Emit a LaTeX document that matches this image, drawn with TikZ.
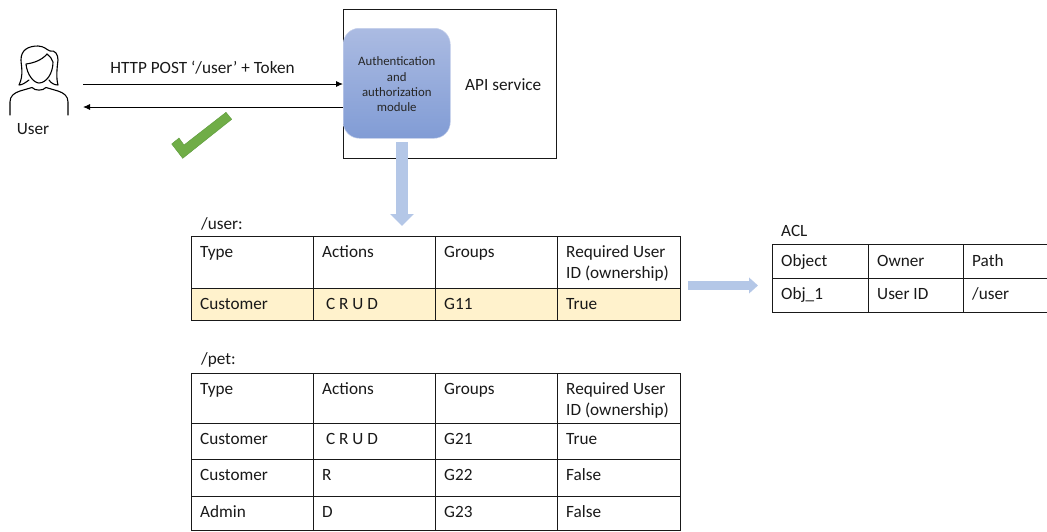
\documentclass[tikz,border=0pt]{standalone}
\usepackage{fontspec}
\setmainfont{Carlito}
\usetikzlibrary{arrows.meta,calc}
\definecolor{rowcol}{HTML}{FFF2CC}
\definecolor{arrowcol}{HTML}{B4C7E7}
\definecolor{checkcol}{HTML}{70AD47}
\definecolor{checkedge}{HTML}{5B9A3A}
\definecolor{modtop}{HTML}{ABBBE2}
\definecolor{modbot}{HTML}{819CD5}
\tikzset{
  x=1pt,y=-1pt,
  txt/.style={font=\fontsize{17.2}{21}\selectfont,inner sep=0pt,text=black!90},
  cell/.style={draw=black!90,line width=0.9pt,inner sep=0pt,anchor=north west},
  celltxt/.style={txt,anchor=north west,align=left},
  flow/.style={draw=black,line width=0.9pt,-{Latex[length=7pt,width=6pt]}},
}
% cell: name, x, y, w, h, fill, text
\newcommand{\tcell}[7]{%
  \node[cell,fill=#6,minimum width=#4pt,minimum height=#5pt] (#1) at (#2,#3) {};
  \node[celltxt] (#1t) at ($(#2,#3)+(9,9)$) {\rule{0pt}{12pt}#7};
}
\begin{document}
\begin{tikzpicture}
\useasboundingbox (0,0) rectangle (1047,531);
% API service
\node[draw=black!90,line width=0.9pt,anchor=north west,minimum width=213pt,minimum height=149pt,inner sep=0pt] (api) at (343,9) {};
\node[txt,anchor=west] (apilabel) at (465,85) {API service};
% module
\node[rounded corners=16pt,top color=modtop,bottom color=modbot,draw=modtop!70!white,line width=0.5pt,anchor=north west,minimum width=107pt,minimum height=110pt,inner sep=0pt,align=center,font=\fontsize{12.8}{15.4}\selectfont,text=black!85] (mod) at (343,28) {\rule{0pt}{11pt}Authentication\\and\\authorization\\module};
% user icon
\begin{scope}[line width=1.1pt,black,line join=round,line cap=round]
  \draw (10,115) -- (10,102) .. controls (10,96) and (14,93) .. (20,91) -- (32,87.5) .. controls (35,91) and (43,91) .. (46,87.5) -- (58,91) .. controls (64,93) and (68,96) .. (68,102) -- (68,115);
  \draw (26,64) .. controls (27,75) and (34,83) .. (39,83) .. controls (46,83) and (53,74) .. (53,62) .. controls (52,59) and (50,56) .. (47,54) .. controls (42,60) and (34,63) .. (26,64);
  \draw (29,80) .. controls (25,83) and (22,85) .. (19,85) .. controls (24,75) and (21,65) .. (21,60) .. controls (21,50) and (28,46) .. (38,46) .. controls (44,46) and (47,50) .. (50,51) .. controls (55,50) and (58,54) .. (58,60) .. controls (57,68) and (56,78) .. (58,85) .. controls (54,85) and (51,83) .. (49,80);
\end{scope}
\node[txt,anchor=center] (user) at (33,129) {User};
% connectors
\coordinate (uright) at (83,84);
\coordinate (uleft) at (83,107);
\draw[flow] (uright) -- (uright-|mod.west);
\draw[flow] (uleft-|mod.west) -- (uleft);
\node[txt,anchor=center] (post) at (202.5,67.5) {HTTP POST ‘/user’ + Token};
% check
\fill[checkcol,draw=checkedge,line width=0.4pt] (171.7,144) -- (179,138) -- (184,145) -- (226,112.3) -- (231.7,119.3) -- (182.7,158.3) -- cycle;
% big arrows
\coordinate (dstart) at (402,142);
\coordinate (dend) at (402,226);
\coordinate (rstart) at (688,285.5);
\coordinate (rend) at (758,285.5);
\draw[line width=12pt,arrowcol,-{Triangle[length=12pt,width=23pt]}] (dstart) -- (dend);
\draw[line width=9pt,arrowcol,-{Triangle[length=9pt,width=15.5pt]}] (rstart) -- (rend);
% /user table
\node[txt,anchor=west] (usercap) at (201,223.5) {/user:};
\tcell{ua}{191}{236}{122}{52}{white}{Type}
\tcell{ub}{313}{236}{122}{52}{white}{Actions}
\tcell{uc}{435}{236}{122}{52}{white}{Groups}
\tcell{ud}{557}{236}{123}{52}{white}{Required User\\ID (ownership)}
\tcell{ue}{191}{288}{122}{32}{rowcol}{Customer}
\tcell{uf}{313}{288}{122}{32}{rowcol}{\ C R U D}
\tcell{ug}{435}{288}{122}{32}{rowcol}{G11}
\tcell{uh}{557}{288}{123}{32}{rowcol}{True}
% /pet table
\node[txt,anchor=west] (petcap) at (201,360) {/pet:};
\tcell{pa}{191}{373}{122}{50}{white}{Type}
\tcell{pb}{313}{373}{122}{50}{white}{Actions}
\tcell{pc}{435}{373}{122}{50}{white}{Groups}
\tcell{pd}{557}{373}{123}{50}{white}{Required User\\ID (ownership)}
\tcell{pe}{191}{423}{122}{36}{white}{Customer}
\tcell{pf}{313}{423}{122}{36}{white}{\ C R U D}
\tcell{pg}{435}{423}{122}{36}{white}{G21}
\tcell{ph}{557}{423}{123}{36}{white}{True}
\tcell{pi}{191}{459}{122}{37}{white}{Customer}
\tcell{pj}{313}{459}{122}{37}{white}{R}
\tcell{pk}{435}{459}{122}{37}{white}{G22}
\tcell{pl}{557}{459}{123}{37}{white}{False}
\tcell{pm}{191}{496}{122}{34}{white}{Admin}
\tcell{pn}{313}{496}{122}{34}{white}{D}
\tcell{po}{435}{496}{122}{34}{white}{G23}
\tcell{pp}{557}{496}{123}{34}{white}{False}
% ACL
\node[txt,anchor=west] (aclcap) at (781,231) {ACL};
\tcell{aa}{772}{244}{96}{34}{white}{\raisebox{-1pt}{Object}}
\tcell{ab}{868}{244}{95}{34}{white}{\raisebox{-1pt}{Owner}}
\tcell{ac}{963}{244}{84}{34}{white}{\raisebox{-1pt}{Path}}
\tcell{ad}{772}{278}{96}{34}{white}{Obj\_1}
\tcell{ae}{868}{278}{95}{34}{white}{User ID}
\tcell{af}{963}{278}{84}{34}{white}{/user}
\end{tikzpicture}
\end{document}
